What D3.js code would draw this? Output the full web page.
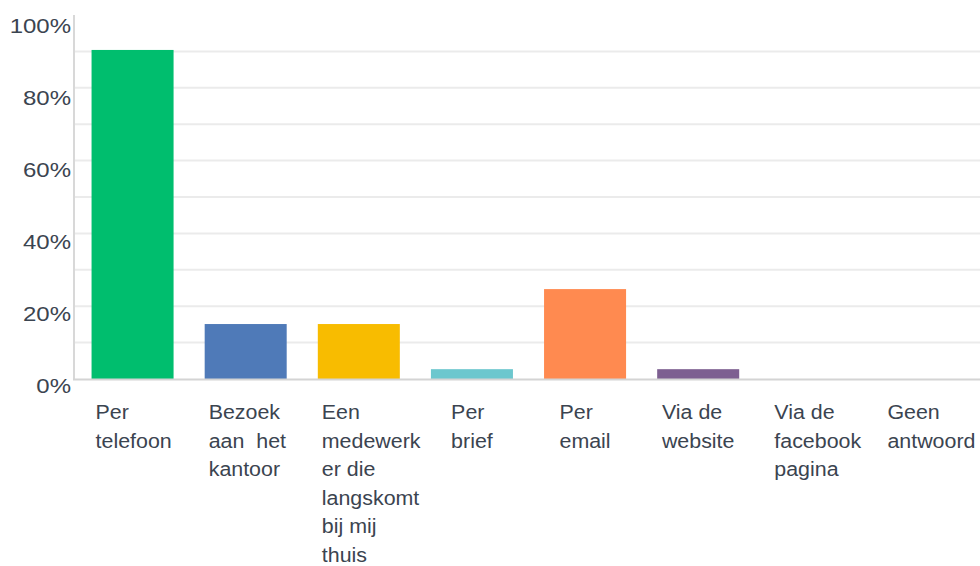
<!DOCTYPE html>
<html>
<head>
<meta charset="utf-8">
<script src="https://cdn.jsdelivr.net/npm/d3@7"></script>
<style>
  html, body { margin: 0; padding: 0; background: #fff; }
  svg { display: block; }
  text { font-family: "Liberation Sans", Arial, sans-serif; fill: #3b4450; }
</style>
</head>
<body>
<svg id="chart" width="980" height="566"></svg>
<script>
const categories = ["Per telefoon", "Bezoek aan het kantoor", "Een medewerker die langskomt bij mij thuis", "Per brief", "Per email", "Via de website", "Via de facebook pagina", "Geen antwoord"];
const labelLines = [
  ["Per", "telefoon"],
  ["Bezoek", "aan  het", "kantoor"],
  ["Een", "medewerk", "er die", "langskomt", "bij mij", "thuis"],
  ["Per", "brief"],
  ["Per", "email"],
  ["Via de", "website"],
  ["Via de", "facebook", "pagina"],
  ["Geen", "antwoord"]
];
const values = [90.4, 15.1, 15.1, 2.7, 24.7, 2.7, 0, 0];
const colors = ["#00be6e", "#4f7ab8", "#f8bc00", "#6cc7ce", "#ff8a50", "#7d5f91", "#999999", "#999999"];
const yTicks = [0, 20, 40, 60, 80, 100];
const gridTicks = [10, 20, 30, 40, 50, 60, 70, 80, 90];

const svg = d3.select("#chart");
const y = d3.scaleLinear().domain([0, 100]).range([379, 15]);
const yLabel = d3.scaleLinear().domain([0, 100]).range([393, 32.5]);
const x = d3.scaleBand().domain(categories).range([76, 981]).paddingInner(0.275).paddingOuter(0.1375);

// gridlines
svg.append("g").selectAll("line").data(gridTicks).join("line")
  .attr("x1", 74).attr("x2", 980)
  .attr("y1", d => y(d)).attr("y2", d => y(d))
  .attr("stroke", "#ebebeb").attr("stroke-width", 2);

// bars
svg.append("g").selectAll("rect").data(categories).join("rect")
  .attr("x", d => x(d))
  .attr("width", x.bandwidth())
  .attr("y", (d, i) => y(values[i]))
  .attr("height", (d, i) => y(0) - y(values[i]))
  .attr("fill", (d, i) => colors[i]);

// axis lines
svg.append("line").attr("x1", 74).attr("x2", 74).attr("y1", 15).attr("y2", 380)
  .attr("stroke", "#d8d8d8").attr("stroke-width", 2);
svg.append("line").attr("x1", 73).attr("x2", 980).attr("y1", 379.5).attr("y2", 379.5)
  .attr("stroke", "#d4d4d4").attr("stroke-width", 2);

// y labels
const yl = svg.append("g");
yTicks.forEach(t => {
  yl.append("text")
    .attr("transform", `translate(71,${yLabel(t)}) scale(1.2,1)`)
    .attr("text-anchor", "end")
    .style("font-size", "20px")
    .text(t + "%");
});

// x labels
const xl = svg.append("g");
categories.forEach((c, i) => {
  const g = xl.append("g");
  const lines = labelLines[i];
  const texts = lines.map((l, j) => g.append("text")
    .attr("x", 0).attr("y", 419 + j * 28.6)
    .style("font-size", "20px")
    .style("white-space", "pre")
    .attr("xml:space", "preserve")
    .text(l));
  const w = d3.max(texts, t => t.node().getComputedTextLength()) * 1.07;
  const cx = x(c) + x.bandwidth() / 2;
  const left = Math.max(cx - w / 2, x(c) + 4);
  g.attr("transform", `translate(${left},0) scale(1.07,1)`);
});
</script>
</body>
</html>
